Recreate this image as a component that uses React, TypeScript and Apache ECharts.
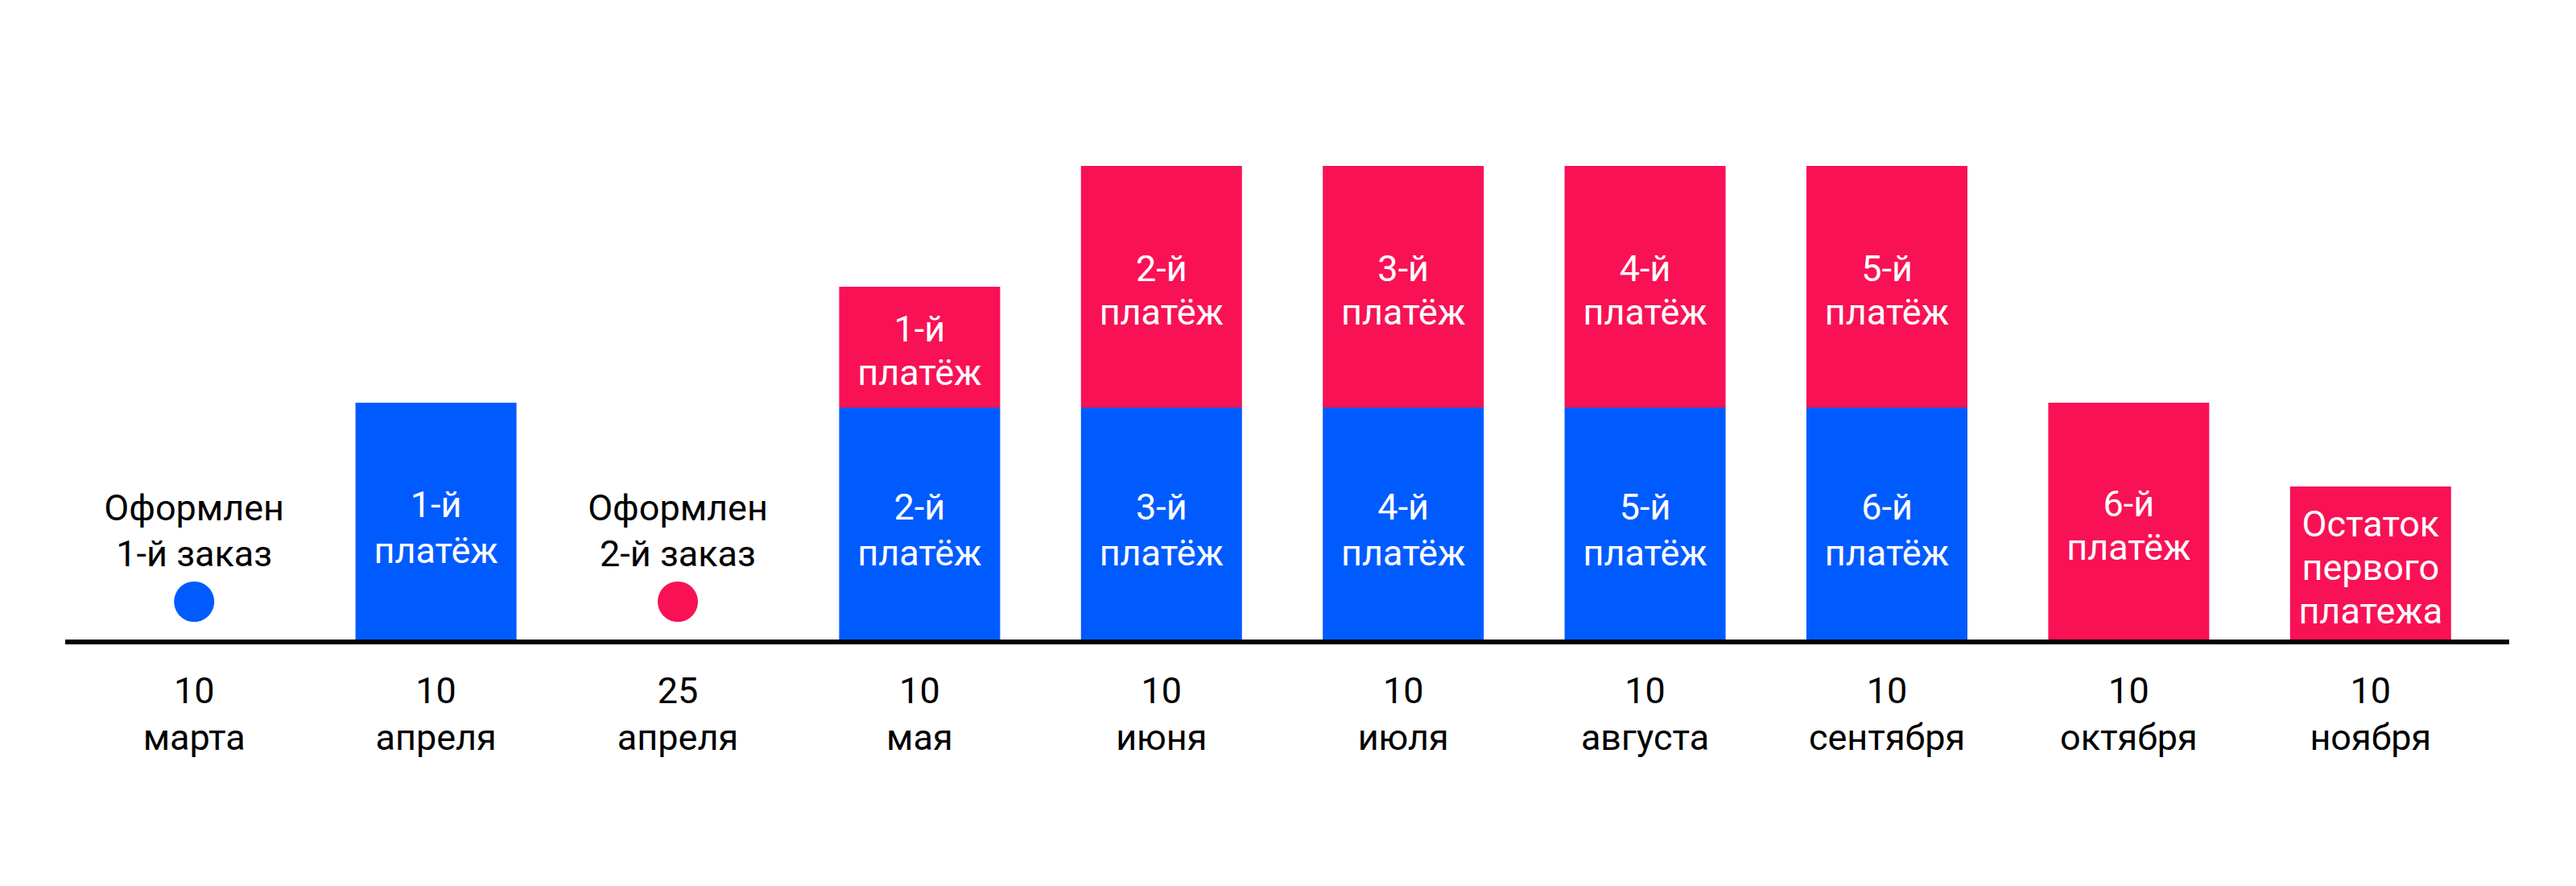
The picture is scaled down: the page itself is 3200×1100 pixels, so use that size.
import React, { useEffect, useRef } from "react";
import * as echarts from "echarts";

const categories = [
  "10\nмарта",
  "10\nапреля",
  "25\nапреля",
  "10\nмая",
  "10\nиюня",
  "10\nиюля",
  "10\nавгуста",
  "10\nсентября",
  "10\nоктября",
  "10\nноября",
];

// payments of the first order (blue)
const blueValues = [0, 296, 0, 290, 290, 290, 290, 290, 0, 0];
const blueLabels = ["", "1-й\nплатёж", "", "2-й\nплатёж", "3-й\nплатёж", "4-й\nплатёж", "5-й\nплатёж", "6-й\nплатёж", "", ""];

// payments of the second order (pink)
const pinkValues = [0, 0, 0, 150, 300, 300, 300, 300, 296, 192];
const pinkLabels = ["", "", "", "1-й\nплатёж", "2-й\nплатёж", "3-й\nплатёж", "4-й\nплатёж", "5-й\nплатёж", "6-й\nплатёж", "Остаток\nпервого\nплатежа"];

// order events (dots)
const eventCategories = ["10\nмарта", "25\nапреля"];
const eventValues = [49, 49];
const eventLabels = ["Оформлен\n1-й заказ", "Оформлен\n2-й заказ"];

const BLUE = "#005BFF";
const PINK = "#F91155";
const FONT = "Roboto";

export default function App() {
  const ref = useRef<HTMLDivElement>(null);

  useEffect(() => {
    document.body.style.margin = "0";
    const chart = echarts.init(ref.current!, null, { renderer: "svg" });
    chart.setOption({
      animation: false,
      backgroundColor: "#ffffff",
      textStyle: { fontFamily: FONT },
      grid: { left: 91, right: 105, top: 196, bottom: 304 },
      xAxis: {
        type: "category",
        data: categories,
        axisLine: { show: false },
        axisTick: { show: false },
        axisLabel: {
          margin: 32,
          fontSize: 45,
          lineHeight: 58,
          color: "#000",
          fontFamily: FONT,
          fontWeight: "normal",
          interval: 0,
        },
      },
      yAxis: {
        type: "value",
        min: 0,
        max: 600,
        show: false,
        splitLine: { show: false },
      },
      graphic: [
        {
          type: "line",
          shape: { x1: 81, y1: 797, x2: 3117, y2: 797 },
          style: { stroke: "#000", lineWidth: 6 },
          z: 10,
        },
      ],
      series: [
        {
          type: "bar",
          stack: "pay",
          barWidth: 200,
          data: blueValues.map((v, i) => ({
            value: v,
            label: { formatter: blueLabels[i] },
          })),
          itemStyle: { color: BLUE },
          label: {
            show: true,
            position: "inside",
            offset: [0, 7],
            color: "#fff",
            fontSize: 45,
            lineHeight: 57,
            fontFamily: FONT,
            fontWeight: "normal",
          },
        },
        {
          type: "bar",
          stack: "pay",
          barWidth: 200,
          data: pinkValues.map((v, i) => ({
            value: v,
            label: { formatter: pinkLabels[i] },
          })),
          itemStyle: { color: PINK },
          label: {
            show: true,
            position: "inside",
            offset: [0, 4],
            color: "#fff",
            fontSize: 45,
            lineHeight: 54,
            fontFamily: FONT,
            fontWeight: "normal",
          },
        },
        {
          type: "scatter",
          symbol: "circle",
          symbolSize: 50,
          itemStyle: { opacity: 1 },
          data: eventCategories.map((c, i) => ({
            value: [c, eventValues[i]],
            itemStyle: { color: i === 0 ? BLUE : PINK, opacity: 1 },
            label: { formatter: eventLabels[i] },
          })),
          label: {
            show: true,
            position: "top",
            distance: 6,
            color: "#000",
            fontSize: 45,
            lineHeight: 57,
            fontFamily: FONT,
            fontWeight: "normal",
          },
          z: 5,
        },
      ],
    });
    return () => chart.dispose();
  }, []);

  return <div ref={ref} style={{ width: 3200, height: 1100 }} />;
}
